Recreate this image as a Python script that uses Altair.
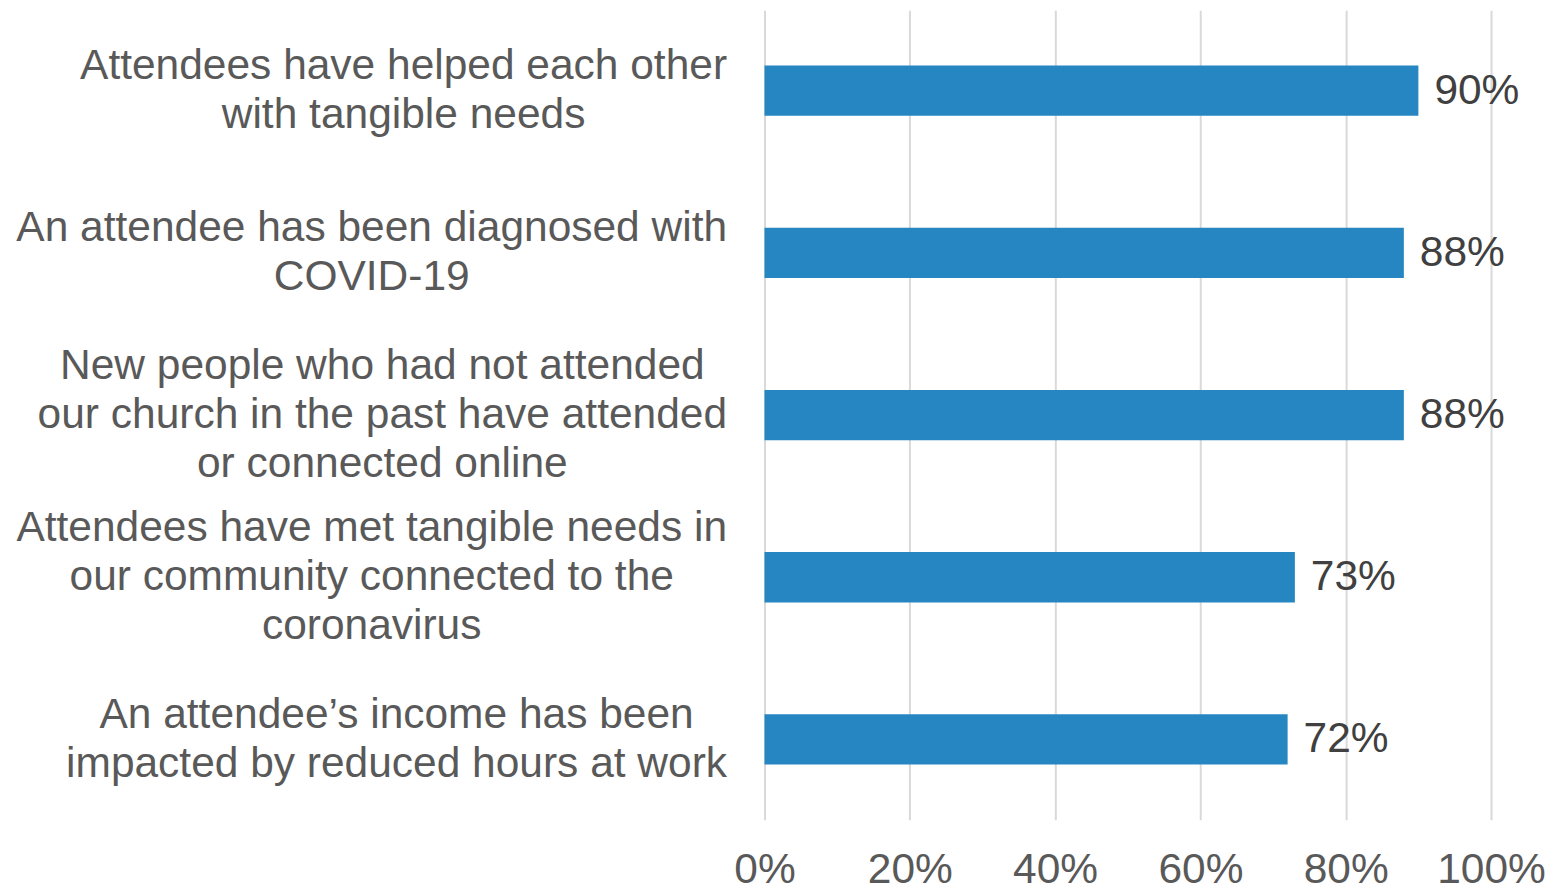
import altair as alt
import pandas as pd

categories = [
    ["Attendees have helped each other", "with tangible needs"],
    ["An attendee has been diagnosed with", "COVID-19"],
    ["New people who had not attended", "our church in the past have attended", "or connected online"],
    ["Attendees have met tangible needs in", "our community connected to the", "coronavirus"],
    ["An attendee\u2019s income has been", "impacted by reduced hours at work"],
]
values = [0.90, 0.88, 0.88, 0.73, 0.72]
x_ticks = [0, 0.2, 0.4, 0.6, 0.8, 1.0]

names = ["|".join(c) for c in categories]
df = pd.DataFrame({"cat": names, "val": values})

FONT = "Liberation Sans"
FS = 42.5
LH = 49

# Lines are centred within each label block and the block is right-aligned
# against the axis: the block width is estimated from Arial-like glyph widths.
lines = "split(datum.label, '|')"


def count(s, cls):
    return f"(length({s}) - length(replace({s}, regexp('{cls}', 'g'), '')))"


def est_width(s):
    return (
        f"(556 * length({s})"
        f" - 334 * {count(s, '[ijl’]')}"
        f" - 278 * {count(s, '[ft ]')}"
        f" - 223 * {count(s, '[r-]')}"
        f" + 277 * {count(s, '[m]')}"
        f" + 166 * {count(s, '[w]')}"
        f" - 56 * {count(s, '[cksvxyz]')}"
        f" + 111 * {count(s, '[A-Z]')})"
    )


line_i = [f"({lines}[{i}] || '')" for i in range(3)]
max_w = "max(" + ", ".join(est_width(s) for s in line_i) + ")"
pad_expr = f"38 + {FS / 1000} * {max_w} / 2"

y_enc = alt.Y(
    "cat:N",
    sort=names,
    title=None,
    scale=alt.Scale(paddingInner=0.69, paddingOuter=0.34),
    axis=alt.Axis(
        labelExpr=lines,
        labelAlign="center",
        labelBaseline="middle",
        labelFont=FONT,
        labelFontSize=FS,
        labelColor="#595959",
        labelLineHeight=LH,
        labelLimit=0,
        labelPadding=alt.ExprRef(pad_expr),
        labelOffset=alt.ExprRef(f"-(length({lines}) - 1) * {LH / 2}"),
        ticks=False,
        tickSize=0,
        domain=False,
        grid=False,
    ),
)

x_enc = alt.X(
    "val:Q",
    title=None,
    scale=alt.Scale(domain=[0, 1], nice=False),
    axis=alt.Axis(
        values=x_ticks,
        format=".0%",
        labelFont=FONT,
        labelFontSize=FS,
        labelColor="#595959",
        labelPadding=29,
        labelFlush=False,
        labelOverlap=False,
        ticks=False,
        tickSize=0,
        domain=False,
        grid=True,
        gridColor="#D9D9D9",
        gridWidth=2,
    ),
)

bars = alt.Chart(df).mark_bar(color="#2686C2").encode(x=x_enc, y=y_enc)

text = alt.Chart(df).mark_text(
    align="left", baseline="middle", dx=16, font=FONT, fontSize=FS, color="#404040"
).encode(x="val:Q", y=alt.Y("cat:N", sort=names), text=alt.Text("val:Q", format=".0%"))

chart = (
    alt.layer(bars, text)
    .properties(
        width=727,
        height=810,
        background="white",
        padding={"left": 7, "top": 2, "right": 5, "bottom": 5},
    )
    .configure_view(stroke=None)
)

chart.save("out.html", embed_options={"renderer": "svg", "actions": False})
